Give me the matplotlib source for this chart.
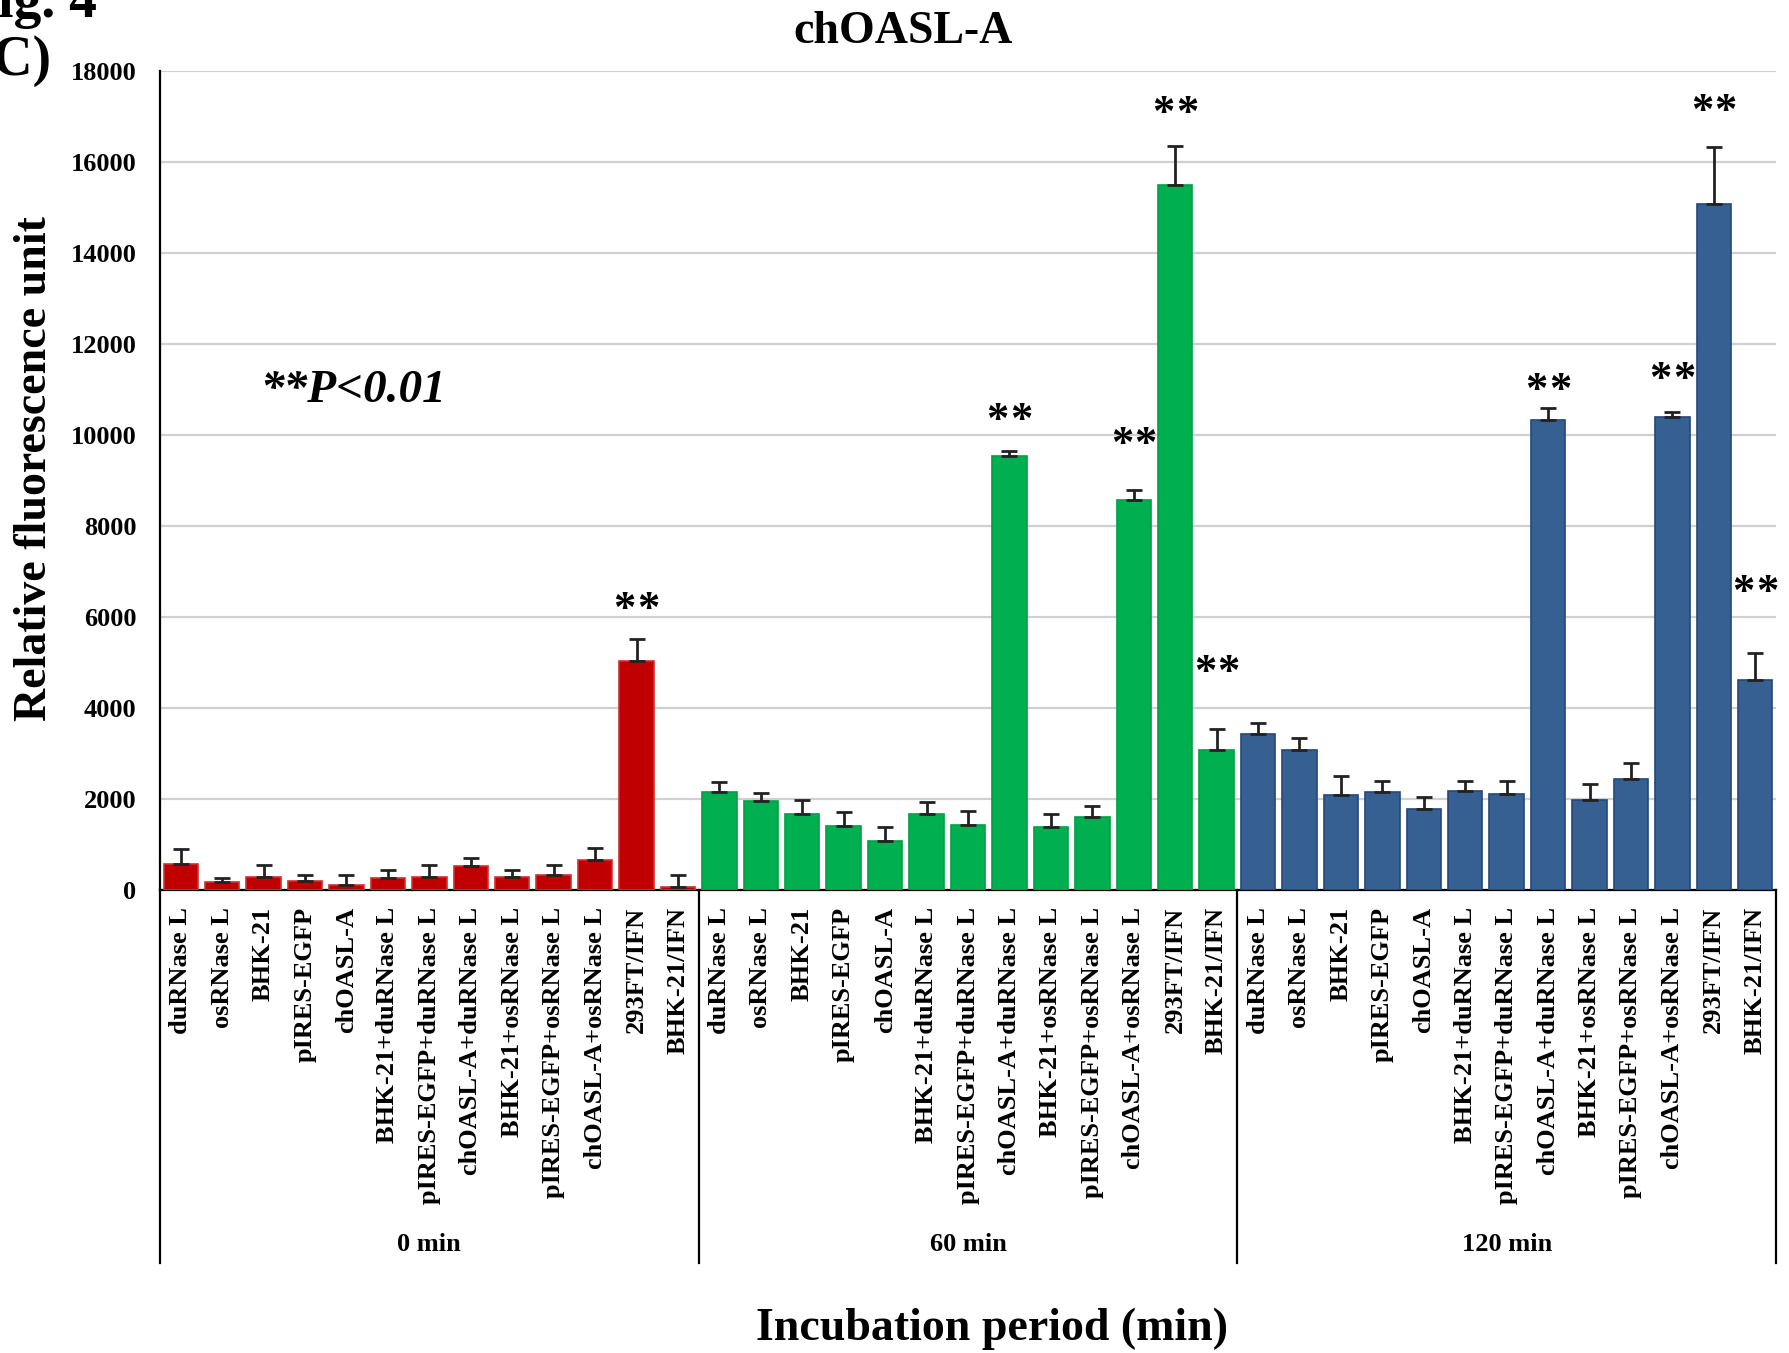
import numpy as np
import matplotlib
matplotlib.use("Agg")
import matplotlib.pyplot as plt

plt.rcParams["font.family"] = ["Liberation Serif", "DejaVu Serif"]
plt.rcParams["font.weight"] = "bold"

# sample names (same in every incubation group)
samples = ["duRNase L", "osRNase L", "BHK-21", "pIRES-EGFP", "chOASL-A",
           "BHK-21+duRNase L", "pIRES-EGFP+duRNase L", "chOASL-A+duRNase L",
           "BHK-21+osRNase L", "pIRES-EGFP+osRNase L", "chOASL-A+osRNase L",
           "293FT/IFN", "BHK-21/IFN"]
groups = ["0 min", "60 min", "120 min"]

# values
vals_0 = [570, 170, 280, 190, 120, 257, 279, 521, 279, 330, 653, 5024, 59]
err_0 = [330, 100, 275, 150, 200, 190, 280, 175, 170, 225, 270, 490, 265]
vals_60 = [2150, 1952, 1681, 1402, 1073, 1681, 1432, 9534, 1380, 1600, 8582, 15505, 3073]
err_60 = [230, 185, 290, 315, 315, 260, 315, 125, 285, 255, 220, 845, 455]
vals_120 = [3435, 3082, 2094, 2153, 1788, 2176, 2106, 10329, 1988, 2435, 10388, 15080, 4612]
err_120 = [235, 260, 410, 235, 245, 210, 280, 260, 340, 350, 120, 1250, 590]

# "**" marks: (group index, sample index, height of the mark centre)
stars_group = [0, 1, 1, 1, 1, 2, 2, 2, 2]
stars_sample = [11, 7, 10, 11, 12, 7, 10, 11, 12]
stars_y = [6400, 10550, 10020, 17300, 5020, 11220, 11450, 17340, 6780]

colors = ["#C00000", "#00B050", "#376092"]
edges = ["#D03030", "#00A045", "#24477A"]

W, H = 1789, 1353
fig = plt.figure(figsize=(W / 100, H / 100), dpi=100)
ax = fig.add_axes([160 / W, 1 - 890 / H, (1776 - 160) / W, (890 - 71) / H])

n = len(samples)
all_vals = [vals_0, vals_60, vals_120]
all_errs = [err_0, err_60, err_120]
for g in range(3):
    x = np.arange(n) + g * n
    ax.bar(x, all_vals[g], width=0.83, color=colors[g], edgecolor=edges[g],
           linewidth=1.2, zorder=3,
           yerr=[np.zeros(n), all_errs[g]],
           error_kw=dict(ecolor="#222222", elinewidth=2, capsize=6, capthick=2, zorder=4))

# two asterisks per mark, a small gap between them
for gi, si, sy in zip(stars_group, stars_sample, stars_y):
    for dx in (-8.5, 8.5):
        ax.annotate("*", (gi * n + si, sy), xytext=(dx, -16), textcoords="offset points",
                    ha="center", va="baseline", fontsize=32, fontweight="bold", zorder=5)

ax.set_xlim(-0.5, 3 * n - 0.5)
ax.set_ylim(0, 18000)
ax.set_yticks(np.arange(0, 18001, 2000))
ax.tick_params(axis="y", length=0, pad=17, labelsize=19)
ax.yaxis.grid(True, color="#D0D0D0", linewidth=1.6, zorder=0)
ax.set_axisbelow(True)
for lab in ax.get_yticklabels():
    lab.set_fontweight("bold")

ax.set_xticks(np.arange(3 * n))
ax.set_xticklabels(samples * 3, rotation=90, fontsize=19, fontweight="bold",
                   va="top", ha="center")
ax.tick_params(axis="x", length=0, pad=12)

for side in ["top", "right"]:
    ax.spines[side].set_visible(False)
ax.spines["left"].set_linewidth(1.6)
ax.spines["bottom"].set_linewidth(1.6)

# group dividers below the axis and group names
trans = ax.get_xaxis_transform()
for b in np.arange(4) * n - 0.5:
    ax.plot([b, b], [0, -0.455], color="black", linewidth=1.6,
            transform=trans, clip_on=False)
for g, name in enumerate(groups):
    ax.text(g * n + (n - 1) / 2, -0.433, name, transform=trans, ha="center",
            va="center", fontsize=19, fontweight="bold")

fig.text(903 / W, 1 - 32 / H, "chOASL-A", ha="center", va="center",
         fontsize=33, fontweight="bold")
fig.text(35 / W, 1 - 469 / H, "Relative fluorescence unit", rotation=90,
         ha="center", va="center", fontsize=33, fontweight="bold")
fig.text(992 / W, 1 - 1329 / H, "Incubation period (min)", ha="center",
         va="center", fontsize=33, fontweight="bold")
fig.text(260 / W, 1 - 391 / H, "**P<0.01", ha="left", va="center",
         fontsize=34, fontweight="bold", style="italic")
fig.text(97 / W, 1 - 17 / H, "Fig. 4", ha="right", va="baseline",
         fontsize=40, fontweight="bold")
fig.text(52 / W, 1 - 75 / H, "(C)", ha="right", va="baseline",
         fontsize=40, fontweight="bold")

fig.savefig("out.png", dpi=100)
